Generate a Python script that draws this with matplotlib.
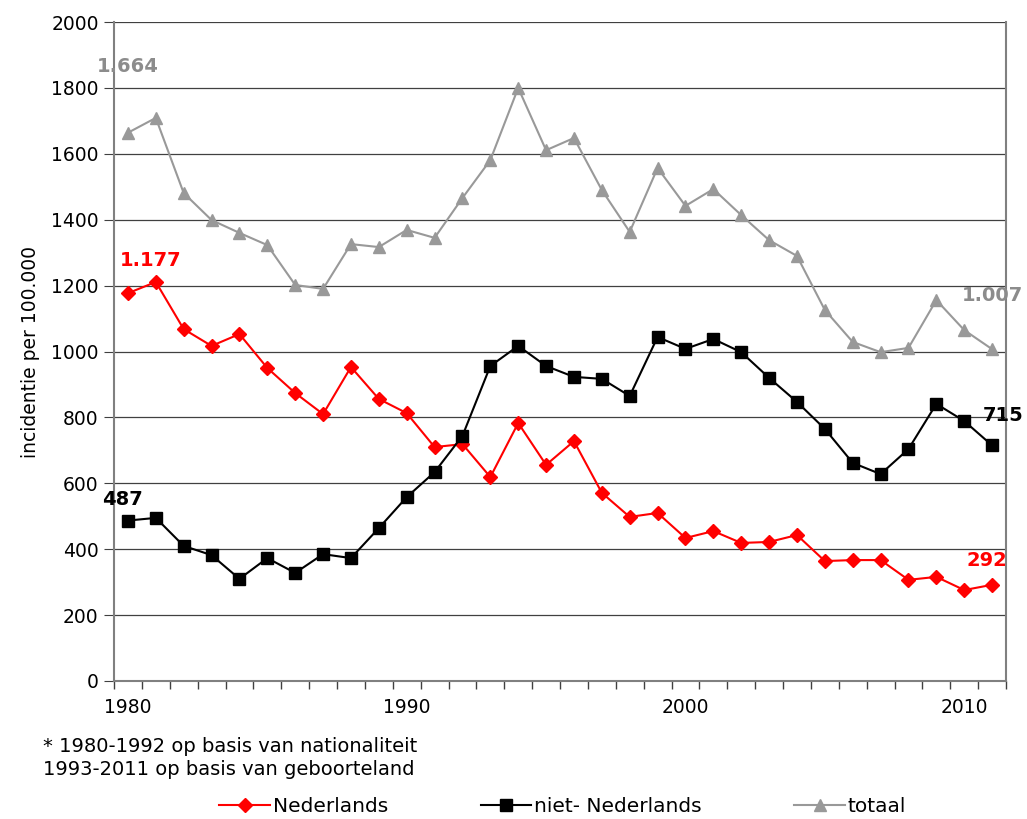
import numpy as np
import matplotlib
matplotlib.use('Agg')
from matplotlib import pyplot as plt

# data
jaren = list(range(1980, 2012))
nederlands = [1177, 1211, 1068, 1017, 1053, 950, 874, 810, 953, 856,
              813, 710, 719, 619, 783, 656, 728, 571, 498, 510,
              434, 455, 419, 422, 443, 364, 367, 367, 307, 316,
              276, 292]
niet_nederlands = [487, 495, 410, 382, 310, 373, 328, 385, 373, 464,
                   558, 634, 744, 956, 1017, 956, 923, 917, 865, 1044,
                   1008, 1038, 998, 920, 847, 765, 662, 628, 704, 841,
                   789, 715]
totaal = [1664, 1709, 1481, 1399, 1360, 1323, 1202, 1190, 1326, 1317,
          1369, 1345, 1466, 1581, 1800, 1611, 1648, 1490, 1363, 1557,
          1442, 1493, 1414, 1338, 1290, 1126, 1029, 998, 1011, 1156,
          1065, 1007]
x_labels = [1980, 1990, 2000, 2010]

plt.rcParams['font.family'] = ['DejaVu Sans']

fig = plt.figure(figsize=(10.27, 8.19), dpi=100)
ax = fig.add_axes([0.111, 0.1685, 0.8686, 0.8046])

ax.plot(jaren, nederlands, color='#ff0000', lw=1.5, marker='D', ms=7,
        label='Nederlands', zorder=4)
ax.plot(jaren, niet_nederlands, color='#000000', lw=1.5, marker='s', ms=9,
        label='niet- Nederlands', zorder=4)
ax.plot(jaren, totaal, color='#999999', lw=1.5, marker='^', ms=9,
        label='totaal', zorder=3)

ax.set_xlim(1979.5, 2011.5)
ax.set_ylim(0, 2000)
ax.set_yticks(range(0, 2001, 200))
ax.yaxis.grid(True, color='#404040', lw=0.9)
ax.set_axisbelow(True)

# ticks op de grenzen, labels in het midden
ax.set_xticks(np.arange(1979.5, 2012, 1))
ax.set_xticklabels([])
ax.set_xticks(x_labels, minor=True)
ax.set_xticklabels([str(j) for j in x_labels], minor=True)
ax.tick_params(axis='x', which='major', length=6, color='#404040', width=1)
ax.tick_params(axis='x', which='minor', length=0, labelsize=13.5, pad=12)
ax.tick_params(axis='y', length=7, color='#404040', labelsize=13.5, pad=4)

for side in ['left', 'bottom', 'right']:
    ax.spines[side].set_color('#808080')
    ax.spines[side].set_linewidth(1.5)
ax.spines['top'].set_visible(False)

ax.set_ylabel('incidentie per 100.000', fontsize=13.5, labelpad=8)

# waarde labels
bold = dict(fontsize=14, fontweight='bold', ha='center', va='center', clip_on=False)
ax.text(jaren[0], 1864, '1.664', color='#8c8c8c', **bold)
ax.text(2011.0, 1171, '1.007', color='#8c8c8c', **bold)
ax.text(1980.8, 1277, '1.177', color='#ff0000', **bold)
ax.text(1979.8, 552, '487', color='#000000', **bold)
ax.text(2011.4, 806, '715', color='#000000', **bold)
ax.text(2010.8, 365, '292', color='#ff0000', **bold)

fig.text(0.042, 0.089, '* 1980-1992 op basis van nationaliteit', fontsize=14, va='center')
fig.text(0.042, 0.060, '1993-2011 op basis van geboorteland', fontsize=14, va='center')

leg = fig.legend(loc='center', bbox_to_anchor=(0.548, 0.015), ncol=3, frameon=False,
                 fontsize=14.5, handlelength=2.5, handletextpad=0.15, columnspacing=4.6)

fig.savefig('out.png', dpi=100)
